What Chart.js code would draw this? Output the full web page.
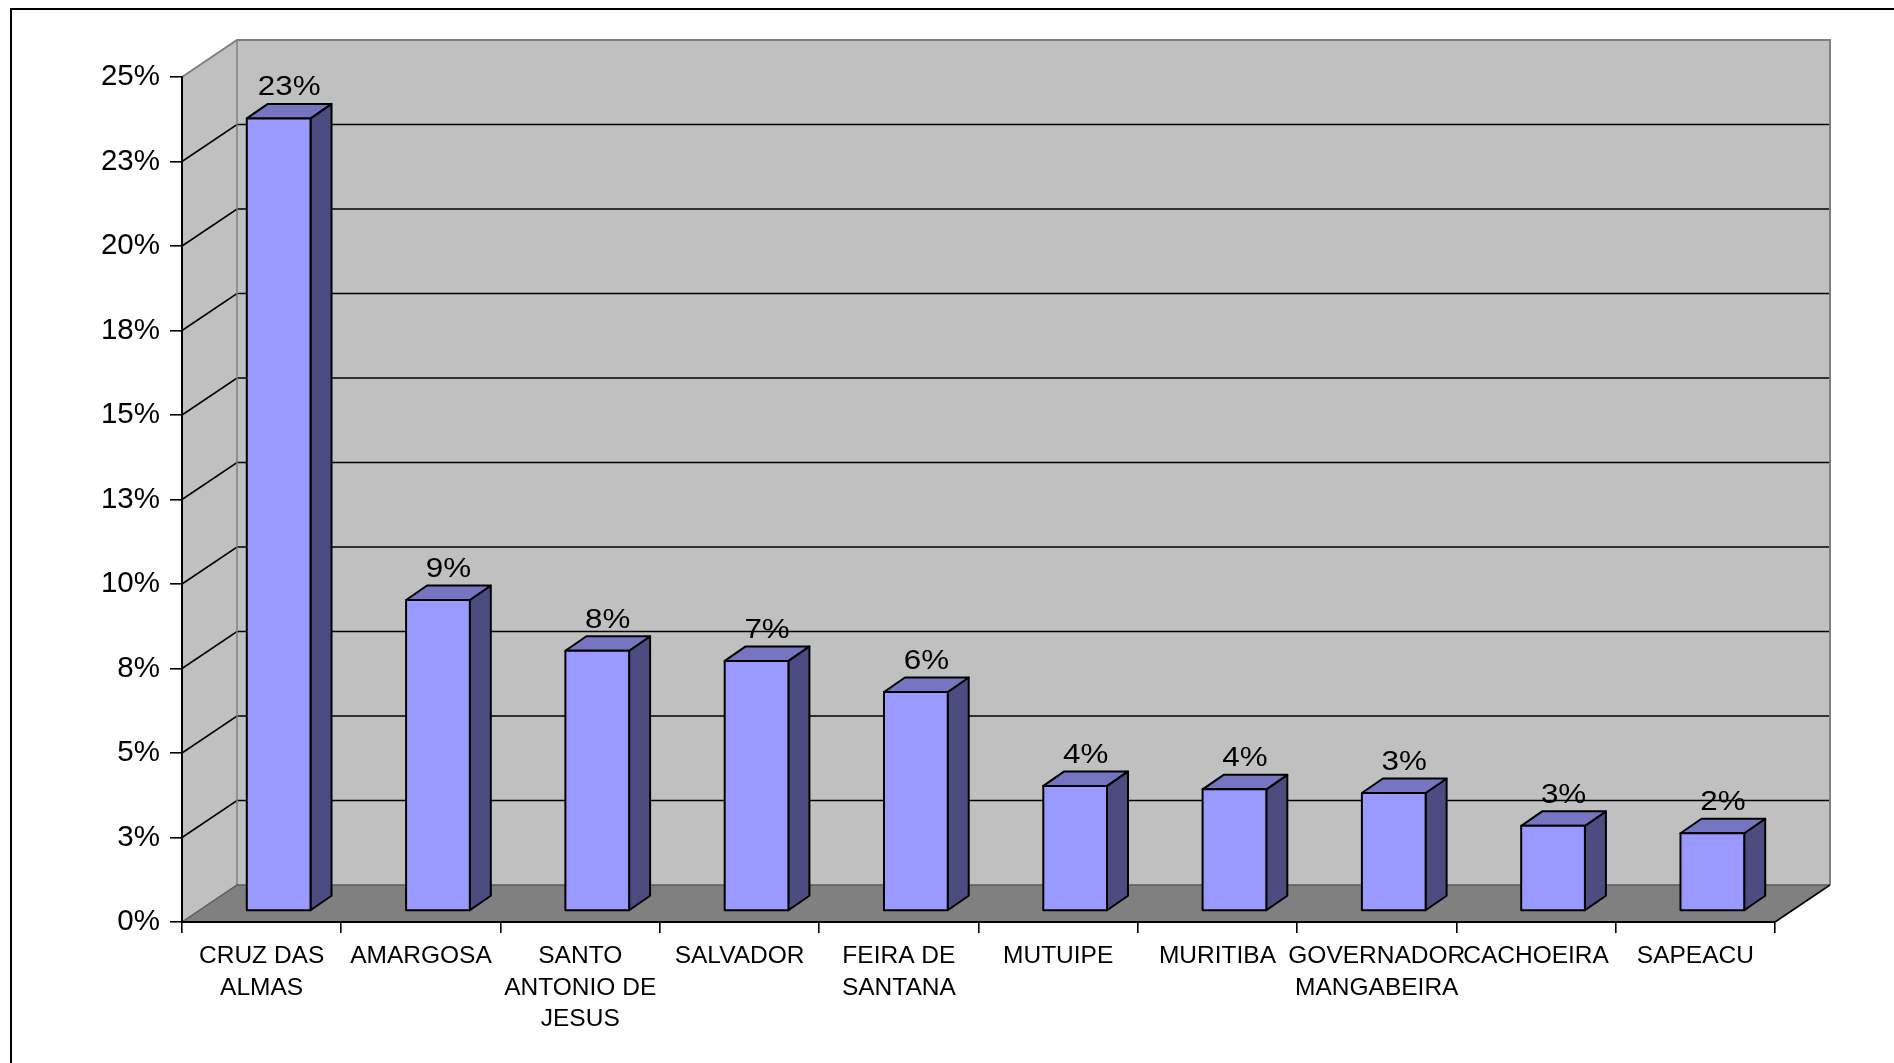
<!DOCTYPE html>
<html>
<head>
<meta charset="utf-8">
<script src="https://cdn.jsdelivr.net/npm/chart.js@4.4.1/dist/chart.umd.min.js"></script>
<style>
  html, body { margin: 0; padding: 0; background: #fff; }
  canvas { display: block; }
</style>
</head>
<body>
<canvas id="chart" width="1894" height="1063"></canvas>
<script>
// municipalities and their share of the total
const cities = [
  ['CRUZ DAS', 'ALMAS'],
  ['AMARGOSA'],
  ['SANTO', 'ANTONIO DE', 'JESUS'],
  ['SALVADOR'],
  ['FEIRA DE', 'SANTANA'],
  ['MUTUIPE'],
  ['MURITIBA'],
  ['GOVERNADOR', 'MANGABEIRA'],
  ['CACHOEIRA'],
  ['SAPEACU']
];
const shares = [0.2345, 0.092, 0.077, 0.074, 0.0648, 0.037, 0.036, 0.0349, 0.0252, 0.023];
const yMin = 0;
const yMax = 0.25;
const yStep = 0.025;

// look of the 3d box
const WALL = '#c0c0c0';
const FLOOR = '#808080';
const EDGE = '#808080';
const FRONT = '#9999ff';
const TOP = '#7575c2';
const SIDE = '#4c4c80';
const DX = 55, DY = 37;    // wall depth
const OX = 17, OY = 11;    // bar front face behind the axis plane
const BX = 21, BY = 14.5;  // bar depth
const FONT = '"Liberation Sans", Arial, sans-serif';

// axis ticks: 2.5% steps rounded half up (7.5 -> 8)
const tickPct = v => Math.round(Math.round(v * 1000) / 10) + '%';
const valuePct = v => Math.round(v * 100) + '%';

function poly(ctx, pts, fill, stroke, lw) {
  ctx.beginPath();
  ctx.moveTo(pts[0][0], pts[0][1]);
  for (let i = 1; i < pts.length; i++) ctx.lineTo(pts[i][0], pts[i][1]);
  ctx.closePath();
  if (fill) { ctx.fillStyle = fill; ctx.fill(); }
  if (stroke) { ctx.strokeStyle = stroke; ctx.lineWidth = lw || 1; ctx.stroke(); }
}

function line(ctx, pts, color, lw) {
  ctx.beginPath();
  ctx.moveTo(pts[0][0], pts[0][1]);
  for (let i = 1; i < pts.length; i++) ctx.lineTo(pts[i][0], pts[i][1]);
  ctx.strokeStyle = color;
  ctx.lineWidth = lw;
  ctx.stroke();
}

const box3d = {
  id: 'box3d',
  beforeDraw(chart) {
    const { ctx, chartArea: a, scales: { y } } = chart;
    ctx.save();

    // outer frame
    ctx.strokeStyle = '#000';
    ctx.lineWidth = 2;
    ctx.strokeRect(11, 9, chart.width + 10, chart.height + 10);

    // walls and floor
    poly(ctx, [[a.left + DX, a.top - DY], [a.right + DX, a.top - DY],
               [a.right + DX, a.bottom - DY], [a.left + DX, a.bottom - DY]], WALL);
    poly(ctx, [[a.left, a.top], [a.left + DX, a.top - DY],
               [a.left + DX, a.bottom - DY], [a.left, a.bottom]], WALL);
    poly(ctx, [[a.left, a.bottom], [a.left + DX, a.bottom - DY],
               [a.right + DX, a.bottom - DY], [a.right, a.bottom]], FLOOR);

    // gridlines run across the side wall and the back wall
    ctx.lineJoin = 'miter';
    y.ticks.forEach(t => {
      if (t.value <= yMin || t.value >= yMax) return;
      const py = y.getPixelForValue(t.value);
      line(ctx, [[a.left, py], [a.left + DX, py - DY], [a.right + DX, py - DY]], '#000', 1.6);
    });

    // wall edges
    line(ctx, [[a.left, a.top], [a.left + DX, a.top - DY], [a.right + DX, a.top - DY],
               [a.right + DX, a.bottom - DY]], EDGE, 2);
    line(ctx, [[a.left + DX, a.top - DY], [a.left + DX, a.bottom - DY]], EDGE, 1.5);
    line(ctx, [[a.left, a.bottom], [a.left + DX, a.bottom - DY], [a.right + DX, a.bottom - DY]], '#5a5a5a', 1.5);
    line(ctx, [[a.right, a.bottom], [a.right + DX, a.bottom - DY]], '#000', 1.6);

    ctx.restore();
  },
  afterDatasetsDraw(chart) {
    const { ctx } = chart;
    const meta = chart.getDatasetMeta(0);
    ctx.save();
    ctx.lineJoin = 'round';
    meta.data.forEach((bar, i) => {
      const { x, y, base, width } = bar.getProps(['x', 'y', 'base', 'width'], true);
      const l = x - width / 2 + OX, r = x + width / 2 + OX;
      const t = y - OY, b = base - OY;

      poly(ctx, [[r, t], [r + BX, t - BY], [r + BX, b - BY], [r, b]], SIDE, '#000', 2);
      poly(ctx, [[l, t], [l + BX, t - BY], [r + BX, t - BY], [r, t]], TOP, '#000', 2);
      poly(ctx, [[l, t], [r, t], [r, b], [l, b]], FRONT, '#000', 2);

      // value label over the top face
      ctx.save();
      ctx.translate((l + r + BX) / 2, t - 23);
      ctx.scale(1.12, 1);
      ctx.fillStyle = '#000';
      ctx.font = '28px ' + FONT;
      ctx.textAlign = 'center';
      ctx.textBaseline = 'alphabetic';
      ctx.fillText(valuePct(shares[i]), 0, 0);
      ctx.restore();
    });
    ctx.restore();
  }
};

new Chart(document.getElementById('chart'), {
  type: 'bar',
  data: {
    labels: cities,
    datasets: [{
      data: shares,
      backgroundColor: 'rgba(0,0,0,0)',
      borderWidth: 0,
      barPercentage: 0.4,
      categoryPercentage: 1
    }]
  },
  options: {
    responsive: false,
    animation: false,
    events: [],
    layout: { padding: { top: 77, right: 119, left: 0, bottom: 0 } },
    plugins: {
      legend: { display: false },
      tooltip: { enabled: false }
    },
    scales: {
      x: {
        afterFit: s => { s.height = 141; },
        border: { display: true, color: '#000', width: 2 },
        grid: { offset: true, drawOnChartArea: false, drawTicks: true, tickLength: 11, color: '#000', lineWidth: 1.6 },
        ticks: {
          autoSkip: false,
          maxRotation: 0,
          color: '#000',
          padding: 7,
          font: { family: FONT, size: 24.5, lineHeight: 1.3 }
        }
      },
      y: {
        min: yMin,
        max: yMax,
        afterFit: s => { s.width = 182; },
        border: { display: true, color: '#000', width: 2 },
        grid: { drawOnChartArea: false, drawTicks: true, tickLength: 12, color: '#000', lineWidth: 1.6 },
        ticks: {
          stepSize: yStep,
          color: '#000',
          padding: 10,
          font: { family: FONT, size: 29.5 },
          callback: v => tickPct(v)
        }
      }
    }
  },
  plugins: [box3d]
});
</script>
</body>
</html>
